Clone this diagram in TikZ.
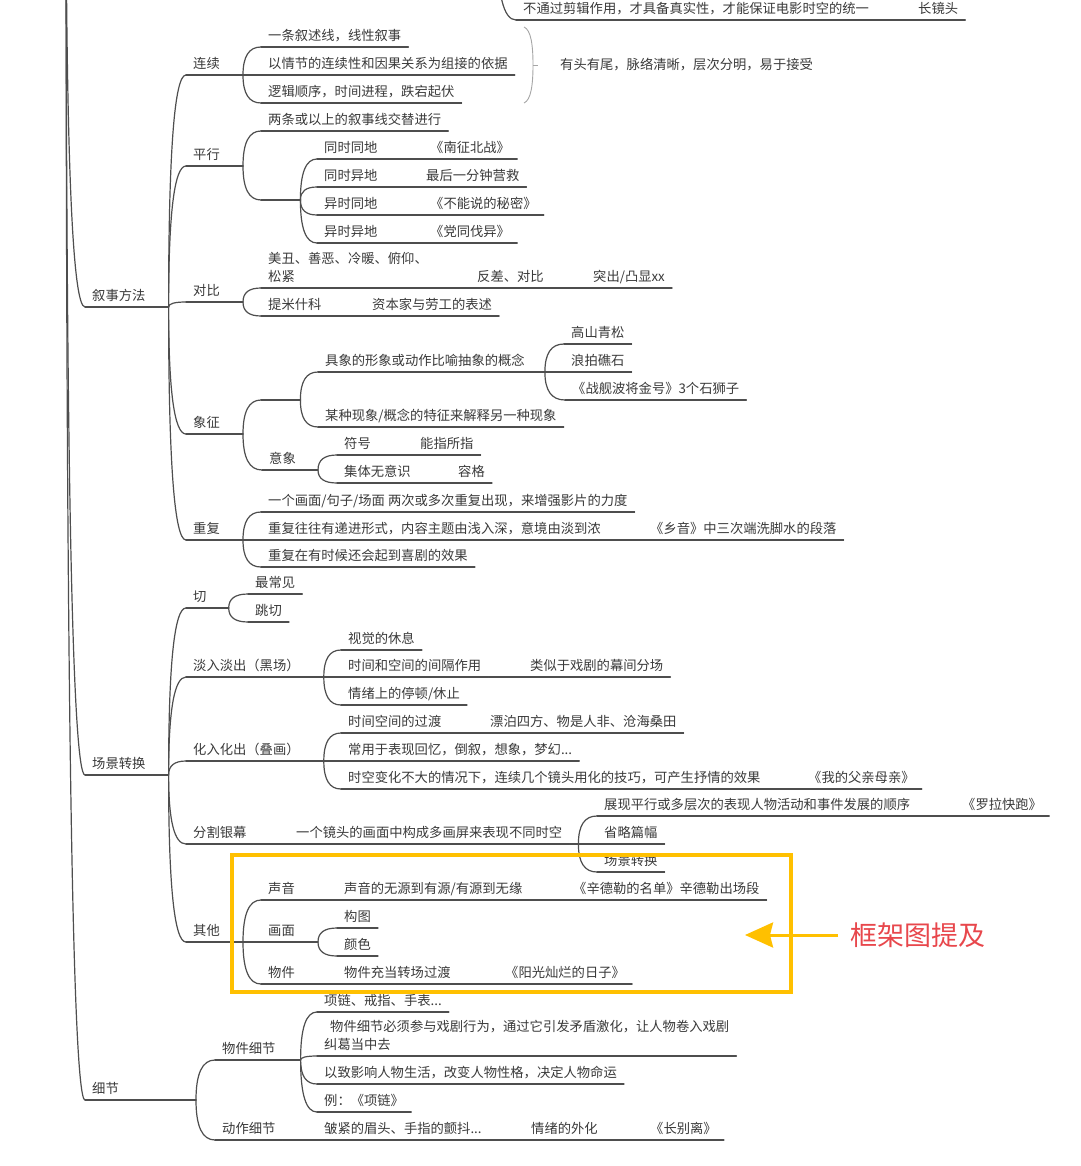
\documentclass[tikz,border=0pt]{standalone}
\usepackage{fontspec}
\setmainfont{Noto Sans CJK SC}
\usepackage{tikz}
\usetikzlibrary{arrows.meta,calc}

\definecolor{ink}{HTML}{3A3A3A}
\definecolor{wire}{HTML}{4E4E4E}
\definecolor{hl}{HTML}{FFC000}
\definecolor{memo}{HTML}{E8474C}

\begin{document}
\begin{tikzpicture}[
    x=1pt, y=-1pt,
    topic/.style={
        anchor=south west,
        inner xsep=7pt,
        inner ysep=3.5pt,
        text height=10pt,
        text depth=2.5pt,
        text=ink,
        font=\fontsize{13.3}{18}\selectfont
    },
    summary/.style={
        anchor=west,
        inner xsep=7pt,
        text=ink,
        font=\fontsize{13.3}{18}\selectfont
    },
    link/.style={
        draw=wire,
        line width=1.2pt,
        line cap=round,
        line join=round
    },
    bracket/.style={
        to path={.. controls ($(\tikztostart)!.667!(\tikztostart |- \tikztotarget)$)
            and ($(\tikztotarget)!.667!(\tikztostart |- \tikztotarget)$) .. (\tikztotarget)}
    },
    brace/.style={
        draw=black!35,
        line width=0.9pt
    },
    hilite/.style={
        draw=hl,
        line width=3.5pt,
        outer sep=0pt
    },
    note/.style={
        anchor=west,
        inner sep=0pt,
        outer xsep=12pt,
        text=memo,
        font=\fontsize{27}{32}\selectfont
    },
    callout/.style={
        draw=hl,
        line width=3pt,
        -{Stealth[length=28pt,width=25pt,inset=3pt]}
    }
]
\useasboundingbox (0,0) rectangle (1080,1166);
\fill[white] (0,0) rectangle (1080,1166);
\clip (0,0) rectangle (1080,1166);

% end of the branch above the crop
\node[topic] (t1) at (516,20) {不通过剪辑作用，才具备真实性，才能保证电影时空的统一};
\node[topic] (t2) at (911,20) {长镜头};

% 叙事方法
\node[topic] (xs) at (85,307) {叙事方法};
\node[topic] (lx) at (186,75) {连续};
\node[topic] (lx1) at (261,47) {一条叙述线，线性叙事};
\node[topic] (lx2) at (261,75) {以情节的连续性和因果关系为组接的依据};
\node[topic] (lx3) at (261,103) {逻辑顺序，时间进程，跌宕起伏};
\node[summary] (summ) at (553,65) {有头有尾，脉络清晰，层次分明，易于接受};

\node[topic] (px) at (186,166) {平行};
\node[topic] (px1) at (261,131) {两条或以上的叙事线交替进行};
\node[topic, minimum width=39pt] (px2) at (261,200) {};
\node[topic] (px21) at (317,159) {同时同地};
\node[topic] (px21b) at (423,159) {《南征北战》};
\node[topic] (px22) at (317,187) {同时异地};
\node[topic] (px22b) at (419,187) {最后一分钟营救};
\node[topic] (px23) at (317,215) {异时同地};
\node[topic] (px23b) at (423,215) {《不能说的秘密》};
\node[topic] (px24) at (317,243) {异时异地};
\node[topic] (px24b) at (423,243) {《党同伐异》};

\node[topic] (db) at (186,302) {对比};
\node[topic, align=left] (db1) at (261,288) {美丑、善恶、冷暖、俯仰、\\松紧};
\node[topic] (db1b) at (470,288) {反差、对比};
\node[topic] (db1c) at (586,288) {突出/凸显xx};
\node[topic] (db2) at (261,316) {提米什科};
\node[topic] (db2b) at (365,316) {资本家与劳工的表述};

\node[topic] (xz) at (186,434) {象征};
\node[topic, minimum width=39pt] (xz1) at (261,400) {};
\node[topic] (xz11) at (318,372) {具象的形象或动作比喻抽象的概念};
\node[topic] (xz111) at (564,344) {高山青松};
\node[topic] (xz112) at (564,372) {浪拍礁石};
\node[topic] (xz113) at (565,400) {《战舰波将金号》3个石狮子};
\node[topic] (xz12) at (318,427) {某种现象/概念的特征来解释另一种现象};
\node[topic] (yx) at (262,470) {意象};
\node[topic] (yx1) at (337,455) {符号};
\node[topic] (yx1b) at (413,455) {能指所指};
\node[topic] (yx2) at (337,483) {集体无意识};
\node[topic] (yx2b) at (451,483) {容格};

\node[topic] (cf) at (186,540) {重复};
\node[topic] (cf1) at (261,512) {一个画面/句子/场面 两次或多次重复出现，来增强影片的力度};
\node[topic] (cf2) at (261,540) {重复往往有递进形式，内容主题由浅入深，意境由淡到浓};
\node[topic] (cf2b) at (643,540) {《乡音》中三次端洗脚水的段落};
\node[topic] (cf3) at (261,567) {重复在有时候还会起到喜剧的效果};

% 场景转换
\node[topic] (cj) at (85,775) {场景转换};
\node[topic] (qie) at (186,608) {切};
\node[topic] (qie1) at (248,594) {最常见};
\node[topic] (qie2) at (248,622) {跳切};

\node[topic] (dr) at (186,677) {淡入淡出（黑场）};
\node[topic] (dr1) at (341,650) {视觉的休息};
\node[topic] (dr2) at (341,677) {时间和空间的间隔作用};
\node[topic] (dr2b) at (523,677) {类似于戏剧的幕间分场};
\node[topic] (dr3) at (341,705) {情绪上的停顿/休止};

\node[topic] (hr) at (186,761) {化入化出（叠画）};
\node[topic] (hr1) at (341,733) {时间空间的过渡};
\node[topic] (hr1b) at (483,733) {漂泊四方、物是人非、沧海桑田};
\node[topic] (hr2) at (341,761) {常用于表现回忆，倒叙，想象，梦幻...};
\node[topic] (hr3) at (341,789) {时空变化不大的情况下，连续几个镜头用化的技巧，可产生抒情的效果};
\node[topic] (hr3b) at (801,789) {《我的父亲母亲》};

\node[topic] (fg) at (186,844) {分割银幕};
\node[topic] (fg1) at (289,844) {一个镜头的画面中构成多画屏来表现不同时空};
\node[topic] (fg11) at (597,816) {展现平行或多层次的表现人物活动和事件发展的顺序};
\node[topic] (fg11b) at (955,816) {《罗拉快跑》};
\node[topic] (fg12) at (597,844) {省略篇幅};
\node[topic] (fg13) at (597,872) {场景转换};

\node[topic] (qt) at (186,942) {其他};
\node[topic] (qt1) at (261,900) {声音};
\node[topic] (qt1b) at (337,900) {声音的无源到有源/有源到无缘};
\node[topic] (qt1c) at (566,900) {《辛德勒的名单》辛德勒出场段};
\node[topic] (qt2) at (261,942) {画面};
\node[topic] (qt21) at (337,928) {构图};
\node[topic] (qt22) at (337,956) {颜色};
\node[topic] (qt3) at (261,984) {物件};
\node[topic] (qt3b) at (337,984) {物件充当转场过渡};
\node[topic] (qt3c) at (498,984) {《阳光灿烂的日子》};

% 细节
\node[topic] (xj) at (85,1100) {细节};
\node[topic] (wj) at (215,1060) {物件细节};
\node[topic] (wj1) at (317,1012) {项链、戒指、手表...};
\node[topic, align=left] (wj2) at (317,1056) {\hspace*{6pt}物件细节必须参与戏剧行为，通过它引发矛盾激化，让人物卷入戏剧\\纠葛当中去};
\node[topic] (wj3) at (317,1084) {以致影响人物生活，改变人物性格，决定人物命运};
\node[topic] (wj4) at (317,1112) {例：《项链》};
\node[topic] (dz) at (215,1140) {动作细节};
\node[topic] (dz1) at (317,1140) {皱紧的眉头、手指的颤抖...};
\node[topic] (dz2) at (524,1140) {情绪的外化};
\node[topic] (dz3) at (643,1140) {《长别离》};

% underlines
\foreach \n in {t1,t2,xs,lx,lx1,lx2,lx3,px,px1,px2,px21,px21b,px22,px22b,px23,px23b,
    px24,px24b,db,db1,db1b,db1c,db2,db2b,xz,xz1,xz11,xz111,xz112,xz113,xz12,yx,yx1,
    yx1b,yx2,yx2b,cf,cf1,cf2,cf2b,cf3,cj,qie,qie1,qie2,dr,dr1,dr2,dr2b,dr3,hr,hr1,
    hr1b,hr2,hr3,hr3b,fg,fg1,fg11,fg11b,fg12,fg13,qt,qt1,qt1b,qt1c,qt2,qt21,qt22,
    qt3,qt3b,qt3c,xj,wj,wj1,wj2,wj3,wj4,dz,dz1,dz2,dz3}
    \draw[link] (\n.south west) -- (\n.south east);

% branch points
\coordinate (root) at (66,-150);
\coordinate (up) at (497,-60);
\draw[link] (xs.south east) -- ++(16,0) coordinate (xsb);
\draw[link] (lx.south east) -- ++(16,0) coordinate (lxb);
\draw[link] (px.south east) -- ++(16,0) coordinate (pxb);
\draw[link] (db.south east) -- ++(16,0) coordinate (dbb);
\draw[link] (xz.south east) -- ++(16,0) coordinate (xzb);
\draw[link] (xz11.south east) -- ++(13,0) coordinate (xz11b);
\draw[link] (yx.south east) -- ++(15,0) coordinate (yxb);
\draw[link] (cf.south east) -- ++(16,0) coordinate (cfb);
\draw[link] (cj.south east) -- ++(16,0) coordinate (cjb);
\draw[link] (qie.south east) -- ++(15,0) coordinate (qieb);
\draw[link] (dr.south east) -- ++(17,0) coordinate (drb);
\draw[link] (hr.south east) -- ++(17,0) coordinate (hrb);
\draw[link] (fg1.south east) -- ++(9,0) coordinate (fgb);
\draw[link] (qt.south east) -- ++(16,0) coordinate (qtb);
\draw[link] (qt2.south east) -- ++(16,0) coordinate (qt2b);
\draw[link] (xj.south east) -- ++(70,0) coordinate (xjb);
\draw[link] (wj.south east) -- ++(18,0) coordinate (wjb);

% curved connectors
\draw[link] (up) to[bracket] (t1.south west);
\foreach \c in {xs,cj,xj} \draw[link] (root) to[bracket] (\c.south west);
\foreach \c in {lx,px,db,xz,cf} \draw[link] (xsb) to[bracket] (\c.south west);
\foreach \c in {lx1,lx2,lx3} \draw[link] (lxb) to[bracket] (\c.south west);
\foreach \c in {px1,px2} \draw[link] (pxb) to[bracket] (\c.south west);
\foreach \c in {px21,px22,px23,px24} \draw[link] (px2.south east) to[bracket] (\c.south west);
\foreach \c in {db1,db2} \draw[link] (dbb) to[bracket] (\c.south west);
\foreach \c in {xz1,yx} \draw[link] (xzb) to[bracket] (\c.south west);
\foreach \c in {xz11,xz12} \draw[link] (xz1.south east) to[bracket] (\c.south west);
\foreach \c in {xz111,xz112,xz113} \draw[link] (xz11b) to[bracket] (\c.south west);
\foreach \c in {yx1,yx2} \draw[link] (yxb) to[bracket] (\c.south west);
\foreach \c in {cf1,cf2,cf3} \draw[link] (cfb) to[bracket] (\c.south west);
\foreach \c in {qie,dr,hr,fg,qt} \draw[link] (cjb) to[bracket] (\c.south west);
\foreach \c in {qie1,qie2} \draw[link] (qieb) to[bracket] (\c.south west);
\foreach \c in {dr1,dr2,dr3} \draw[link] (drb) to[bracket] (\c.south west);
\foreach \c in {hr1,hr2,hr3} \draw[link] (hrb) to[bracket] (\c.south west);
\foreach \c in {fg11,fg12,fg13} \draw[link] (fgb) to[bracket] (\c.south west);
\foreach \c in {qt1,qt2,qt3} \draw[link] (qtb) to[bracket] (\c.south west);
\foreach \c in {qt21,qt22} \draw[link] (qt2b) to[bracket] (\c.south west);
\foreach \c in {wj,dz} \draw[link] (xjb) to[bracket] (\c.south west);
\foreach \c in {wj1,wj2,wj3,wj4} \draw[link] (wjb) to[bracket] (\c.south west);

% straight chains on one line
\foreach \a/\b in {t1/t2,px21/px21b,px22/px22b,px23/px23b,px24/px24b,db1/db1b,db1b/db1c,
    db2/db2b,yx1/yx1b,yx2/yx2b,cf2/cf2b,dr2/dr2b,hr1/hr1b,hr3/hr3b,fg/fg1,fg11/fg11b,
    qt1/qt1b,qt1b/qt1c,qt3/qt3b,qt3b/qt3c,dz/dz1,dz1/dz2,dz2/dz3}
    \draw[link] (\a.south east) -- (\b.south west);

% summary brace of 连续
\draw[brace] (524,27) .. controls (531,30) and (533,45) .. (533,65)
    .. controls (533,85) and (531,100) .. (524,103);
\draw[brace] (533,65) -- (538,65);

% highlight frame and remark
\node[hilite, anchor=north west, minimum width=559pt, minimum height=137pt] (frame) at (232,855) {};
\node[note] (remark) at (838,935) {框架图提及};
\coordinate (tip) at (745,935);
\draw[callout] (remark.west) -- (tip);

\end{tikzpicture}
\end{document}
